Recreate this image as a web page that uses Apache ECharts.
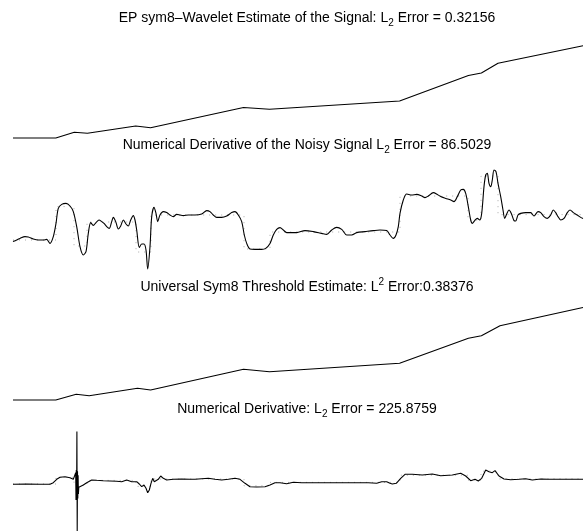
<!DOCTYPE html>
<html>
<head>
<meta charset="utf-8">
<script src="https://cdn.jsdelivr.net/npm/echarts@6/dist/echarts.min.js"></script>
<style>
  html, body { margin: 0; padding: 0; background: #fff; }
  #chart { width: 584px; height: 531px; }
</style>
</head>
<body>
<div id="chart"></div>
<script>
// Sample positions run 0..570; signal values in amplitude units, derivatives in slope units.

// Wavelet (EP sym8) estimate of the signal
const epEstimate = [
  [0, 0], [42.8, 0], [61.3, 0.57], [74.4, 0.47], [122.7, 1.2], [137.6, 1.03],
  [230.5, 3.05], [256.5, 2.87], [386.6, 3.7], [455.4, 6.25], [468.4, 6.5],
  [485, 7.47], [568.8, 9.2], [570, 9.22]
];

// Universal sym8 threshold estimate of the signal
const universalEstimate = [
  [0, 0], [42.8, 0], [63.2, 0.57], [76.2, 0.43], [124.5, 1.17], [137.6, 1.0],
  [230.5, 3.07], [256.5, 2.83], [386.6, 3.67], [455.4, 6.17], [468.4, 6.43],
  [487, 7.43], [568.8, 9.23], [570, 9.25]
];

// True (piecewise constant) derivative, drawn dotted
const trueDerivative = [
  [0, 0], [43, 16.7], [61, -3], [74, 9], [123, -6], [138, 12.5], [231, -4.5],
  [257, 4], [387, 22], [455, 10], [468, 32], [485, 12.7], [570, 12.7]
];

// Derivative estimated from the noisy signal via the wavelet estimate
const noisyDerivative = [
  [0,-0.8],[3.7,0],[7,0.8],[12,1.7],[15.3,1.5],[20.3,0.5],[25.3,0],[30.3,0],[33.7,0.3],[37,-1.7],
  [40.3,1.7],[43,8.3],[45.3,15.8],[48.7,17.8],[53,18.3],[57,17],[60.3,14.2],[63.7,6.7],[67,-3.3],
  [70.3,-7.5],[73,-5.8],[75.3,3.3],[77.7,8.7],[80.3,7.3],[83,8.7],[86,10],[88.7,9.2],[91,8.3],
  [93.7,6.7],[96.3,5.8],[98.7,9.2],[100.3,11.3],[102.7,9.2],[105.3,5.5],[107.7,7],[110.3,10],
  [113,8],[115.3,7],[117.7,10],[120.3,12.2],[122,10],[123.7,5],[126.3,-3.7],[128.7,-2],[131,-2],
  [133,-5],[134.7,-14.5],[137,-3.3],[138.7,11.7],[141,16.3],[143,13.3],[144.7,9.2],[147,12.5],
  [150.3,14.2],[153.7,13.7],[157,12.5],[160.3,11.7],[163.7,12.8],[167,12.5],[170.3,12.2],
  [175.3,12.5],[182,12.5],[188.7,13],[193.7,14.7],[197,14.2],[200.3,12.5],[203.7,11.3],
  [208.7,11.3],[213.7,12],[218.7,13.7],[222,14.2],[225.3,12.5],[228.7,9.2],[231.3,2.5],
  [233.7,-1.7],[237,-4.5],[242,-4.7],[248.7,-4.7],[252.7,-4.2],[257,-1.7],[260.3,2.5],
  [263.7,5.3],[267,6.2],[270.3,5],[273.7,3.7],[278.7,3.7],[283.7,3.7],[292,4.7],[300.3,4.2],
  [308.7,3.3],[313.7,2.8],[318.7,5],[323.7,6.3],[328.7,5.3],[333.7,2.5],[338.7,2.5],[343.7,3.7],
  [352,4.2],[360.3,4.7],[367,5],[373.7,4.7],[377,2.5],[380.3,0.8],[383,2.5],[385.3,6.7],
  [387,13.3],[390.3,20],[393.7,23],[398.7,22.5],[403.7,22.8],[408.7,22],[412,21.2],[415.3,22],
  [420.3,23.7],[424.3,22.8],[427.7,21.7],[432.7,20.8],[437.7,20],[441,19.2],[444.3,21.7],
  [447.7,25],[450.3,25.3],[452.7,23.3],[455.3,16.7],[457.7,10],[459.3,8.3],[461.7,9.7],
  [464.3,10.8],[466.7,10],[468.7,13.3],[471,26.7],[472.7,32.5],[474.3,33.3],[476,28.3],
  [477.7,26.7],[479.3,30],[481,35],[483,34.2],[485,28.3],[487.7,21.7],[490,15],[491.7,10.8],
  [493.7,13],[496,15],[498.3,13.3],[501,9.7],[502.7,9.5],[505,12.5],[507.7,13.3],[512.7,13.7],
  [517.7,13.7],[521,12],[525,14.2],[527.7,13.7],[531,11.7],[534.3,10.8],[537.7,12.5],[540.3,15],
  [542.7,13.7],[545,11.7],[547.7,10],[551,10.8],[554.3,13.7],[557,15],[560.3,13.7],[564.3,12.5],
  [567.7,11.3],[570,10.8]
];

// Plain numerical (finite difference) derivative
const plainDerivative = [
  [0,-0.8],[13.7,0],[27,-0.8],[37,-0.8],[40.3,3.3],[43.7,11.7],[47,16.7],[52,18.3],[57,15.8],
  [60.3,11.7],[62.3,10],[62.7,28],[63,-40],[63.3,35],[63.6,-38],[63.9,131],[64.2,-118],[64.5,32],
  [64.8,-36],[65.1,22],[65.4,-25],[65.8,-8],[67,-8.3],[70.3,-2.5],[73.7,3.3],[78.7,10],[83.7,9.2],
  [90.3,8.3],[97,7.5],[103.7,6.7],[108.7,5.8],[113.7,10],[118.7,5.8],[123.7,5.8],[126.3,0],
  [128.7,-6.7],[131,-2.5],[133,-10.8],[134.7,-21.7],[136.3,-15],[138,1.7],[139.7,14.2],[141.3,5.8],
  [143,3.3],[145.3,11.7],[147.7,20],[150.3,14.2],[153.7,10],[160.3,11.7],[168.7,12.5],[177,11.7],
  [182,11.7],[188.7,13.3],[195.3,14.2],[202,11.7],[208.7,10],[215.3,11.7],[222,14.2],[227,11.7],
  [232,1.7],[237,-6.7],[243.7,-7.5],[252,-6.7],[257,-2.5],[262,3.3],[267,3.3],[273.7,0.8],
  [280.3,4.2],[288.7,3.3],[302,3.3],[315.3,3.3],[328.7,3.3],[342,3.3],[355.3,3.3],[363.7,1.7],
  [368.7,5.8],[373.7,5.8],[377,1.7],[379.3,0],[383.3,1.7],[387.7,14.2],[392,24.2],[399.3,24.2],
  [409.3,22.5],[419.3,25],[427.7,20.8],[439.3,22.5],[447.7,26.7],[452.7,20],[457.7,8.3],[462,11.7],
  [465.3,7.5],[468.7,14.2],[472.7,35],[476,30.8],[479.3,28.3],[482,33.3],[486,20],[491,12.5],
  [497.7,10.8],[506,11.7],[512.7,13.3],[519.3,10],[527.7,12.5],[536,11.7],[549.3,11.7],
  [562.7,11.7],[570,11.7]
];

// Panel titles: [before index, index, after index, index position]
const titles = [
  ['EP sym8\u2013Wavelet Estimate of the Signal: L', '2', ' Error = 0.32156', 'sub'],
  ['Numerical Derivative of the Noisy Signal L', '2', ' Error = 86.5029', 'sub'],
  ['Universal Sym8 Threshold Estimate: L', '2', ' Error:0.38376', 'sup'],
  ['Numerical Derivative: L', '2', ' Error = 225.8759', 'sub']
];
const titleY = [18, 145.5, 287, 409];

const FONT = '"Liberation Sans", Arial, Helvetica, sans-serif';

const panels = [
  { top: 30, height: 110, min: -0.2, max: 10.8 },
  { top: 160, height: 115, min: -17.5, max: 40 },
  { top: 292, height: 110, min: -0.2, max: 10.8 },
  { top: 430, height: 101, min: -117.5, max: 135 }
];

const chart = echarts.init(document.getElementById('chart'), null, { renderer: 'canvas' });

const grid = panels.map(p => ({ left: 13, right: 1, top: p.top, height: p.height, containLabel: false }));
const xAxis = panels.map((p, i) => ({ type: 'value', gridIndex: i, min: 0, max: 570, show: false }));
const yAxis = panels.map((p, i) => ({ type: 'value', gridIndex: i, min: p.min, max: p.max, show: false }));

const solid = (data, idx, smooth) => ({
  type: 'line', xAxisIndex: idx, yAxisIndex: idx, data, showSymbol: false, symbol: 'none',
  smooth: smooth, animation: false, clip: true,
  lineStyle: { color: '#000', width: 1.1 }
});
const dotted = (data, idx) => ({
  type: 'line', xAxisIndex: idx, yAxisIndex: idx, data, step: 'end', symbol: 'none',
  animation: false, z: 1,
  lineStyle: { color: '#a8a8a8', width: 1, type: [1, 5] }
});

const graphic = titles.map((t, i) => {
  const idxStyle = t[3] === 'sub'
    ? { fontSize: 10, fontFamily: FONT, color: '#000', lineHeight: 11, padding: [10, 0, 0, 0] }
    : { fontSize: 10, fontFamily: FONT, color: '#000', lineHeight: 11, padding: [0, 0, 10, 0] };
  return {
    type: 'text', x: 307, y: titleY[i], silent: true,
    style: {
      text: '{m|' + t[0] + '}{i|' + t[1] + '}{m|' + t[2] + '}',
      align: 'center', verticalAlign: 'middle',
      rich: {
        m: { fontSize: 14, fontFamily: FONT, color: '#000', lineHeight: 16 },
        i: idxStyle
      }
    }
  };
});

chart.setOption({
  backgroundColor: '#fff',
  animation: false,
  grid, xAxis, yAxis, graphic,
  series: [
    solid(epEstimate, 0, false),
    dotted(trueDerivative, 1),
    solid(noisyDerivative, 1, 0.3),
    solid(universalEstimate, 2, false),
    dotted(trueDerivative, 3),
    solid(plainDerivative, 3, false)
  ]
});
</script>
</body>
</html>
